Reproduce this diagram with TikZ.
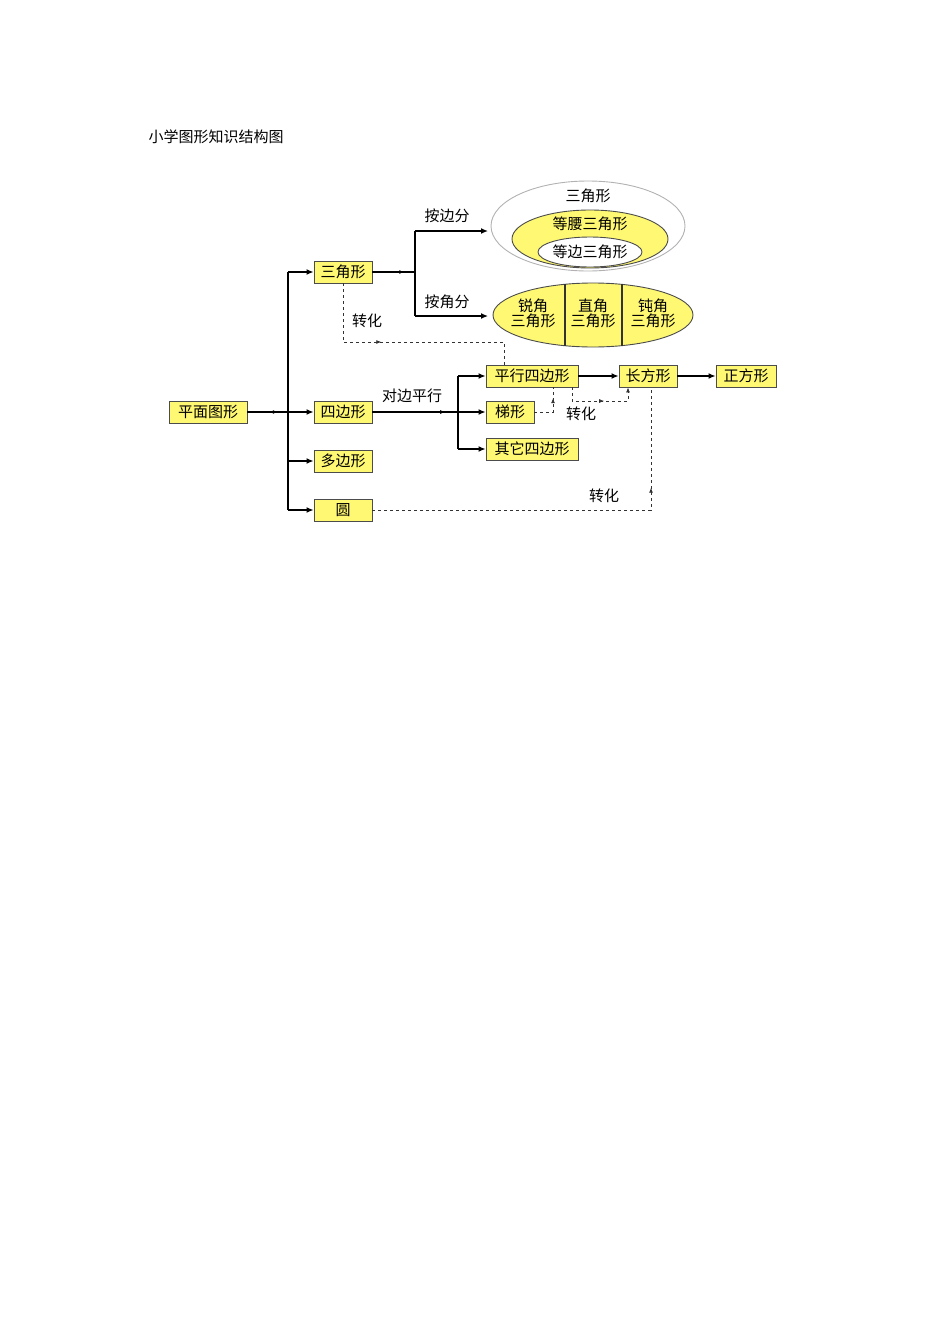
\documentclass[tikz,border=0pt]{standalone}
\usepackage{fontspec}
\setmainfont{Noto Sans CJK SC}
\usetikzlibrary{arrows.meta,decorations.markings}
\begin{document}
\begin{tikzpicture}[x=1pt,y=-1pt,
  box/.style={draw=black!70,line width=0.9pt,fill=yellow!55,inner sep=1.5pt,minimum height=22pt,font=\fontsize{15}{16}\selectfont},
  lab/.style={font=\fontsize{15}{16}\selectfont},
  ar/.style={line width=1.3pt,-{Latex[length=7pt,width=6pt]}},
  ln/.style={line width=1.3pt},
  midar/.style={postaction={decorate},decoration={markings,mark=at position #1 with {\arrow{Latex[length=5pt,width=4pt]}}}},
  dsh/.style={dashed,line width=0.8pt,gray!40!black}]
\useasboundingbox (0,0) rectangle (950,1344);
\node[font=\fontsize{15}{16}\selectfont,anchor=west] (title) at (145,137) {小学图形知识结构图};
\node[box,minimum width=78pt] (pm) at (208,412) {平面图形};
\node[box,minimum width=58pt] (sj) at (343,272) {三角形};
\node[box,minimum width=58pt] (sb) at (343,412) {四边形};
\node[box,minimum width=58pt] (db) at (343,461) {多边形};
\node[box,minimum width=58pt] (yu) at (343,510) {圆};
\node[box,minimum width=92pt] (px) at (532,376) {平行四边形};
\node[box,minimum width=48pt] (tx) at (510,412) {梯形};
\node[box,minimum width=92pt] (qt) at (532,449) {其它四边形};
\node[box,minimum width=58pt] (cf) at (648,376) {长方形};
\node[box,minimum width=60pt] (zf) at (746,376) {正方形};
% ellipses
\draw[gray!60,line width=0.9pt,fill=white] (588,226) ellipse (97 and 45);
\draw[black!70,line width=0.9pt,fill=yellow!55] (590,239) ellipse (78 and 29);
\draw[black!70,line width=0.9pt,fill=white] (590,252) ellipse (52 and 15);
\node[lab] (e1) at (588,196) {三角形};
\node[lab] (e2) at (590,224) {等腰三角形};
\node[lab] (e3) at (590,252) {等边三角形};
\draw[black!70,line width=0.9pt,fill=yellow!55] (593,315) ellipse (100 and 32);
\draw[black!80,line width=1.2pt] (565,284) -- (565,346) (622,284) -- (622,346);
\node[lab,align=center] (a1) at (533,313) {锐角\\[-1pt]三角形};
\node[lab,align=center] (a2) at (593,313) {直角\\[-1pt]三角形};
\node[lab,align=center] (a3) at (653,313) {钝角\\[-1pt]三角形};
\coordinate (e1in) at (488,231);
\coordinate (e2in) at (488,316);
% trunk
\coordinate (t0) at (288,412);
\draw[ln,midar=0.75] (pm.east) -- (t0);
\draw[ln] (288,272) -- (288,510);
\draw[ar] (288,272) -- (sj.west);
\draw[ar] (288,412) -- (sb.west);
\draw[ar] (288,461) -- (db.west);
\draw[ar] (288,510) -- (yu.west);
% triangle branch
\draw[ln,midar=0.75] (sj.east) -- (415,272);
\draw[ln] (415,231) -- (415,316);
\draw[ar] (415,231) -- (e1in);
\draw[ar] (415,316) -- (e2in);
\node[lab] (l1) at (447,216) {按边分};
\node[lab] (l2) at (447,302) {按角分};
% quadrilateral branch
\draw[ln,midar=0.85] (sb.east) -- (458,412);
\node[lab] (l3) at (412,396) {对边平行};
\draw[ln] (458,376) -- (458,449);
\draw[ar] (458,376) -- (px.west);
\draw[ar] (458,412) -- (tx.west);
\draw[ar] (458,449) -- (qt.west);
\draw[ar] (px.east) -- (cf.west);
\draw[ar] (cf.east) -- (zf.west);
% dashed
\draw[dsh,midar=0.4] (sj.south) -- (343,342) -- (504,342) -- (px.north -| 504,0);
\node[lab] (l4) at (367,321) {转化};
\draw[dsh,midar=0.75] (tx.east) -- (553,412) -- (px.south -| 553,0);
\draw[dsh,midar=0.55,-{Latex[length=5pt,width=4pt]}] (px.south -| 572,0) -- (572,401) -- (628,401) -- (cf.south -| 628,0);
\node[lab] (l5) at (581,414) {转化};
\draw[dsh,midar=0.75] (yu.east) -- (651,510) -- (cf.south -| 651,0);
\node[lab] (l6) at (604,496) {转化};
\end{tikzpicture}
\end{document}
